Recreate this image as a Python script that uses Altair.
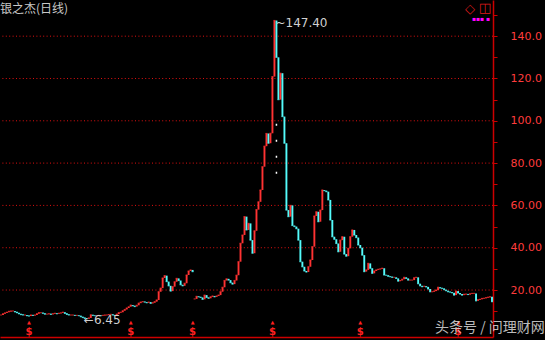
import altair as alt
import pandas as pd

# ---- data (daily closes, compressed, oldest first) ----
closes = [
    8.2, 8.8, 9.2, 9.5, 9.9, 10.1, 10.1, 9.7, 9.3, 8.8,
    8.4, 8.2, 8.2, 7.9, 7.7, 8.2, 8.0, 8.2, 8.8, 9.3,
    9.3, 9.0, 8.6, 8.6, 8.8, 8.5, 8.8, 9.0, 8.8, 9.0,
    9.2, 9.5, 9.0, 8.5, 8.2, 8.2, 8.2, 8.0, 8.0, 7.9,
    7.4, 7.0, 6.6, 6.45, 6.8, 8.3, 8.0, 7.9, 7.9, 8.0,
    7.9, 8.0, 8.2, 8.2, 8.4, 8.5, 8.2, 8.0, 8.6, 9.3,
    9.5, 10.2, 10.8, 11.5, 12.1, 12.9, 12.6, 12.2, 12.8, 13.8,
    14.3, 14.5, 14.3, 14.0, 14.3, 13.7, 14.0, 14.5, 15.3, 19.2,
    20.9, 25.7, 26.8, 24.0, 22.0, 19.5, 21.6, 23.9, 25.5, 24.5,
    22.5, 22.0, 23.2, 27.1, 29.0, 29.5, 28.7, 15.8, 17.0, 16.8,
    16.5, 15.6, 17.6, 16.5, 16.1, 16.8, 17.2, 16.8, 17.2, 17.6,
    19.2, 21.3, 24.5, 25.3, 24.7, 23.5, 22.8, 24.5, 27.0, 33.4,
    42.1, 46.0, 54.7, 48.4, 51.5, 43.6, 37.4, 48.0, 58.0, 61.7,
    67.3, 78.3, 88.0, 94.0, 89.4, 94.1, 120.9, 147.4, 130.0, 110.0,
    122.5, 102.0, 89.4, 57.8, 54.7, 60.0, 50.5, 50.0, 49.0, 43.6,
    33.4, 31.0, 29.0, 28.5, 31.0, 34.2, 40.5, 55.0, 57.0, 52.3,
    57.8, 67.3, 67.0, 66.5, 62.6, 53.1, 45.2, 44.0, 42.0, 38.1,
    43.6, 45.2, 37.0, 36.0, 39.7, 45.2, 48.4, 46.0, 44.8, 41.3,
    40.0, 36.5, 28.7, 29.5, 32.6, 30.3, 27.9, 29.0, 29.5, 29.8,
    30.0, 30.3, 27.1, 27.0, 26.5, 26.3, 26.0, 26.0, 25.5, 24.2,
    24.5, 25.1, 26.0, 25.5, 24.7, 24.7, 24.7, 25.8, 26.0, 23.0,
    22.0, 21.6, 21.8, 21.5, 20.5, 19.2, 19.2, 19.5, 20.0, 21.3,
    21.0, 20.8, 20.2, 19.7, 19.2, 19.0, 18.7, 17.6, 19.5, 18.6,
    18.1, 17.6, 18.0, 18.1, 17.9, 18.2, 18.4, 18.4, 14.9, 15.4,
    15.6, 16.0, 16.1, 16.4, 16.6, 16.8, 14.5,
]
exright_days = [97]                       # price gap (ex-rights) day
dividend_days = [14, 65, 96, 136, 180, 229]
gap_marker = {"day": [138], "lo": [75], "hi": [100]}
grid_levels = [20, 40, 60, 80, 100, 120, 140]
axis_ticks = [10, 20, 30, 40, 50, 60, 70, 80, 90, 100, 110, 120, 130, 140, 150]
title_text = "银之杰(日线)"
watermark_text = "头条号 / 问理财网"

# ---- build table ----
days = list(range(len(closes)))
opens = [closes[0]] + closes[:-1]
for d in exright_days:
    opens[d] = closes[d]
df = pd.DataFrame({"day": days, "open": opens, "close": closes})
df["dir"] = ["up" if c >= o else "down" for o, c in zip(opens, closes)]

peak_day = closes.index(max(closes))
low_day = closes.index(min(closes))
df_max = pd.DataFrame({"day": [peak_day], "v": [max(closes)], "t": ["~%.2f" % max(closes)]})
df_min = pd.DataFrame({"day": [low_day], "v": [min(closes)], "t": ["←%.2f" % min(closes)]})
df_div = pd.DataFrame({"day": dividend_days})
df_grid = pd.DataFrame({"level": grid_levels})
df_gap = pd.DataFrame(gap_marker)

x_scale = alt.Scale(domain=[-0.5, len(closes) - 0.5], nice=False, zero=False)
y_scale = alt.Scale(domain=[-2.2, 157.1], nice=False, zero=False)
color = alt.Color("dir:N", scale=alt.Scale(domain=["up", "down"], range=["#ff3232", "#54fcfc"]), legend=None)

x_axis = alt.Axis(orient="bottom", domainColor="#cc0000", domainWidth=1.5, ticks=False,
                  labels=False, grid=False, title=None)
y_axis = alt.Axis(orient="right", values=axis_ticks, grid=False, title=None,
                  domainColor="#cc0000", domainWidth=1.5, tickColor="#cc0000", tickSize=4,
                  labelColor="#ff3c3c", labelFont="DejaVu Sans", labelFontSize=11,
                  labelAlign="left", labelBaseline="middle", labelPadding=13,
                  labelOverlap=False, labelFlush=False, format=".4r",
                  labelExpr="datum.value % 20 == 0 ? datum.label : ''")


def X(field):
    return alt.X(field, scale=x_scale, axis=x_axis)


def Y(field):
    return alt.Y(field, scale=y_scale, axis=y_axis)


grid = alt.Chart(df_grid).mark_rule(color="#e01010", strokeDash=[1, 2.4], strokeWidth=1).encode(
    y=Y("level:Q")
)

base = alt.Chart(df)
bodies = base.mark_rule(strokeWidth=1.9).encode(
    x=X("day:Q"), y=Y("open:Q"), y2="close:Q", color=color,
)
ticks = base.mark_tick(thickness=1.2, size=2, orient="horizontal").encode(
    x=X("day:Q"), y=Y("close:Q"), color=color,
)

gapline = alt.Chart(df_gap).mark_rule(color="white", strokeDash=[2, 14], strokeWidth=1.5).encode(
    x=X("day:Q"), y=Y("lo:Q"), y2="hi:Q"
)

max_label = alt.Chart(df_max).mark_text(align="left", baseline="middle", dx=1, dy=2,
                                        font="DejaVu Sans", fontSize=12, color="#d0d0d0").encode(
    x=X("day:Q"), y=Y("v:Q"), text="t:N"
)
min_label = alt.Chart(df_min).mark_text(align="left", baseline="middle", dx=-3, dy=1,
                                        font="DejaVu Sans", fontSize=12, color="#d0d0d0").encode(
    x=X("day:Q"), y=Y("v:Q"), text="t:N"
)

div_marks = alt.Chart(df_div).mark_text(text="$", font="DejaVu Sans", fontWeight="bold",
                                        fontSize=10, color="#ff2020", baseline="middle").encode(
    x=X("day:Q"), y=alt.value(332)
)
div_hats = alt.Chart(df_div).mark_text(text="▲", font="DejaVu Sans", fontSize=5,
                                       color="#ff2020", baseline="middle").encode(
    x=X("day:Q"), y=alt.value(322)
)

title = alt.Chart(pd.DataFrame({"t": [title_text]})).mark_text(
    align="left", baseline="middle", font="Noto Sans CJK SC", fontSize=12, color="#c8c8c8"
).encode(x=alt.value(0), y=alt.value(9), text="t:N")

icon1 = alt.Chart(pd.DataFrame({"t": ["◇"]})).mark_text(
    baseline="middle", font="DejaVu Sans", fontSize=13, color="#dd1a1a"
).encode(x=alt.value(470), y=alt.value(9), text="t:N")
icon2 = alt.Chart(pd.DataFrame({"t": ["◫"]})).mark_text(
    baseline="middle", font="DejaVu Sans", fontSize=13, color="#dd1a1a"
).encode(x=alt.value(485), y=alt.value(8), text="t:N")
icon3 = alt.Chart(pd.DataFrame({"t": ["▪▪▪ ▪"]})).mark_text(
    baseline="middle", font="DejaVu Sans", fontSize=6, color="#ff00ff"
).encode(x=alt.value(481), y=alt.value(19), text="t:N")

watermark = alt.Chart(pd.DataFrame({"t": [watermark_text]})).mark_text(
    align="left", baseline="middle", font="Noto Sans CJK SC", fontSize=14, color="#dcdcdc", opacity=0.85
).encode(x=alt.value(435), y=alt.value(328), text="t:N")

chart = alt.layer(
    grid, gapline, bodies, ticks, max_label, min_label, div_hats, div_marks,
    title, icon1, icon2, icon3, watermark
).properties(
    width=493, height=337,
    autosize=alt.AutoSizeParams(type="none"),
    padding={"left": 0, "top": 0, "right": 52, "bottom": 3},
    background="black",
).configure_view(strokeWidth=0)

chart.save("out.html", embed_options={"renderer": "svg", "actions": False})
